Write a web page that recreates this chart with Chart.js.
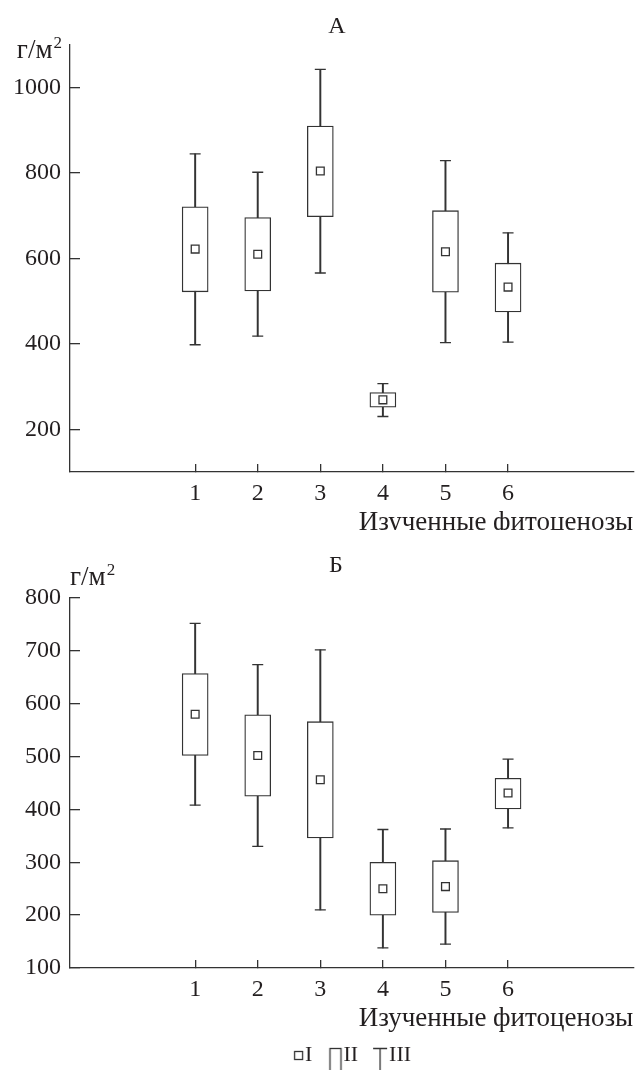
<!DOCTYPE html>
<html>
<head>
<meta charset="utf-8">
<script src="https://cdn.jsdelivr.net/npm/chart.js@4.4.1/dist/chart.umd.min.js"></script>
<style>
  body { margin: 0; background: #fff; }
  canvas { display: block; }
</style>
</head>
<body>
<canvas id="chartA" width="640" height="530"></canvas>
<canvas id="chartB" width="640" height="540"></canvas>
<script>
const categories = ["1", "2", "3", "4", "5", "6"];
const positions = [1, 2, 3, 4, 5, 6];

// panel A
const minA = [398, 418, 566, 230, 403, 404];
const q1A = [522, 524, 698, 252, 521, 475];
const meanA = [622, 610, 805, 269, 616, 533];
const q3A = [721, 696, 910, 286, 712, 589];
const maxA = [845, 802, 1043, 307, 829, 660];
const yTicksA = [200, 400, 600, 800, 1000];

// panel B
const minB = [408, 330, 210, 138, 145, 365];
const q1B = [502, 425, 346, 200, 205, 401];
const meanB = [580, 502, 456, 250, 254, 431];
const q3B = [657, 579, 566, 300, 303, 459];
const maxB = [752, 674, 702, 362, 363, 495];
const yTicksB = [100, 200, 300, 400, 500, 600, 700, 800];

const legendLabels = ["I", "II", "III"];

const ink = "#333";
const textColor = "#231f20";
const family = "'Liberation Serif', 'Times New Roman', serif";
const font = { family: family, size: 24 };

// legend icons: small square (mean), box, whisker
function icon(draw) {
  const c = document.createElement("canvas");
  c.width = 30; c.height = 30;
  const g = c.getContext("2d");
  g.strokeStyle = ink;
  g.lineWidth = 1.3;
  draw(g);
  return c;
}
const legendIcons = [
  icon(g => g.strokeRect(16.5, 11.5, 8, 8)),
  icon(g => g.strokeRect(13.5, 8.5, 11, 30)),
  icon(g => {
    g.beginPath();
    g.moveTo(11, 8.5); g.lineTo(25, 8.5);
    g.moveTo(18, 8.5); g.lineTo(18, 30);
    g.stroke();
  })
];

const panelText = {
  id: "panelText",
  afterDraw(chart, args, o) {
    const ctx = chart.ctx;
    ctx.save();
    ctx.fillStyle = textColor;
    ctx.textBaseline = "alphabetic";
    ctx.font = "24px " + family;
    ctx.textAlign = "center";
    ctx.fillText(o.letter, o.letterX, o.letterY);
    // unit with superscript
    const base = "г/м";
    ctx.font = "27px " + family;
    const wBase = ctx.measureText(base).width;
    ctx.font = "17px " + family;
    const wSup = ctx.measureText("2").width;
    const x0 = o.unitAlign === "right" ? o.unitX - wBase - wSup - 1 : o.unitX;
    ctx.textAlign = "left";
    ctx.fillText("2", x0 + wBase + 1, o.unitY - 10);
    ctx.font = "27px " + family;
    ctx.fillText(base, x0, o.unitY);
    ctx.restore();
  }
};

function makeChart(id, s) {
  const datasets = [
    {
      type: "bar",
      data: positions.map((x, i) => ({ x: x, y: [s.min[i], s.max[i]] })),
      backgroundColor: ink,
      barThickness: 1.3,
      grouped: false,
      order: 4
    },
    {
      type: "bar",
      data: positions.map((x, i) => ({ x: x, y: [s.q1[i], s.q3[i]] })),
      backgroundColor: "#fff",
      borderColor: ink,
      borderWidth: 1.3,
      borderSkipped: false,
      barThickness: 26,
      grouped: false,
      order: 3
    },
    {
      type: "scatter",
      data: positions.flatMap((x, i) => [{ x: x, y: s.min[i] }, { x: x, y: s.max[i] }]),
      pointStyle: "line",
      pointRadius: 5.5,
      pointHoverRadius: 5.5,
      pointBorderColor: ink,
      pointBorderWidth: 1.3,
      order: 2
    },
    {
      type: "scatter",
      data: positions.map((x, i) => ({ x: x, y: s.mean[i] })),
      pointStyle: "rect",
      pointRadius: 5.5,
      pointHoverRadius: 5.5,
      pointBackgroundColor: "#fff",
      pointBorderColor: ink,
      pointBorderWidth: 1.3,
      order: 1
    }
  ];

  return new Chart(document.getElementById(id), {
    type: "bar",
    data: { datasets: datasets },
    plugins: [panelText],
    options: {
      responsive: false,
      animation: false,
      layout: { padding: { top: s.padTop, left: 0, right: 2, bottom: 0 } },
      plugins: {
        tooltip: { enabled: false },
        legend: {
          display: s.legend,
          position: "bottom",
          fullSize: false,
          maxHeight: s.legendHeight,
          labels: {
            usePointStyle: true,
            boxWidth: 2,
            boxHeight: 2,
            padding: 18,
            font: { family: family, size: 22 },
            color: textColor,
            generateLabels: () => legendLabels.map((t, i) => ({
              text: t,
              pointStyle: legendIcons[i],
              hidden: false,
              lineWidth: 0,
              fontColor: textColor,
              datasetIndex: i
            }))
          }
        },
        panelText: s.text
      },
      scales: {
        x: {
          type: "linear",
          min: -1,
          max: 8,
          offset: false,
          afterBuildTicks: a => { a.ticks = positions.map(v => ({ value: v })); },
          afterFit: a => { a.height = s.xHeight; },
          ticks: {
            callback: v => categories[positions.indexOf(v)],
            font: font,
            color: textColor,
            padding: 15,
            autoSkip: false,
            maxRotation: 0
          },
          grid: { offset: false, drawOnChartArea: false, tickLength: -8, color: ink, lineWidth: 1.3 },
          border: { color: ink, width: 1.3 },
          title: {
            display: true,
            text: "Изученные фитоценозы",
            align: "end",
            color: textColor,
            font: { family: family, size: 27, lineHeight: 0.5 },
            padding: 0
          }
        },
        y: {
          min: s.yMin,
          max: s.yMax,
          afterBuildTicks: a => { a.ticks = s.yTicks.map(v => ({ value: v })); },
          afterFit: a => { a.width = 70; },
          ticks: { font: font, color: textColor, padding: 19, callback: v => String(v) },
          grid: { drawOnChartArea: false, tickLength: -10, color: ink, lineWidth: 1.3 },
          border: { color: ink, width: 1.3 }
        }
      }
    }
  });
}

makeChart("chartA", {
  min: minA, q1: q1A, mean: meanA, q3: q3A, max: maxA,
  yTicks: yTicksA, yMin: 100, yMax: 1100,
  padTop: 45, xHeight: 58, legend: false, legendHeight: 0,
  text: { letter: "А", letterX: 337, letterY: 33, unitX: 62, unitY: 58, unitAlign: "right" }
});

makeChart("chartB", {
  min: minB, q1: q1B, mean: meanB, q3: q3B, max: maxB,
  yTicks: yTicksB, yMin: 100, yMax: 800,
  padTop: 68, xHeight: 58, legend: true, legendHeight: 44,
  text: { letter: "Б", letterX: 336, letterY: 42, unitX: 70, unitY: 55, unitAlign: "left" }
});
</script>
</body>
</html>
